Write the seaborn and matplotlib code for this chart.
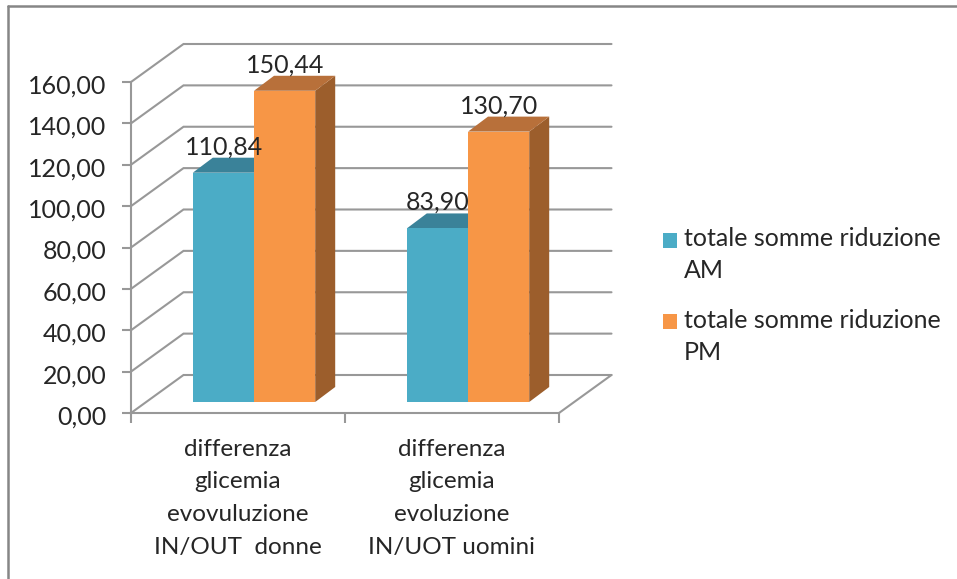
import matplotlib
matplotlib.use("Agg")
import matplotlib.pyplot as plt
import seaborn as sns
import pandas as pd
from matplotlib.legend_handler import HandlerPatch
from matplotlib.lines import Line2D
from matplotlib.patches import Polygon, Rectangle
from matplotlib.transforms import Affine2D, offset_copy

categories = ["differenza\nglicemia\nevovuluzione\nIN/OUT  donne",
              "differenza\nglicemia\nevoluzione\nIN/UOT uomini"]
series_names = ["totale somme riduzione\nAM", "totale somme riduzione\nPM"]
am_values = [110.84, 83.90]
pm_values = [150.44, 130.70]
value_labels_am = ["110,84", "83,90"]
value_labels_pm = ["150,44", "130,70"]
y_ticks = [0, 20, 40, 60, 80, 100, 120, 140, 160]
y_tick_labels = ["0,00", "20,00", "40,00", "60,00", "80,00", "100,00", "120,00", "140,00", "160,00"]

FRONT = ["#4BACC6", "#F79646"]
TOP = ["#3A8299", "#B8703A"]
SIDE = ["#2F7086", "#9C5E2C"]
GRID = "#989898"
TEXT = "#262626"

W, H = 957, 579
sns.set_theme(style="white")
plt.rcParams["font.family"] = ["Lato", "DejaVu Sans"]

fig = plt.figure(figsize=(W / 100, H / 100), dpi=100)
ax = fig.add_axes([131 / W, (H - 413) / H, 428 / W, 331 / H])

df = pd.DataFrame({
    "categoria": categories * 2,
    "serie": [series_names[0]] * 2 + [series_names[1]] * 2,
    "valore": am_values + pm_values,
})
sns.barplot(data=df, x="categoria", y="valore", hue="serie", palette=FRONT,
            saturation=1, width=0.572, gap=0, dodge=True, linewidth=0, ax=ax, zorder=5)
handles, labels = ax.get_legend_handles_labels()
ax.get_legend().remove()

ax.set_xlim(-0.5, 1.5)
ax.set_ylim(0, 160)
ax.set_xlabel("")
ax.set_ylabel("")

# pixel -> data scale
ux = 2 / 428
uy = 160 / 331
wall_dx, wall_dy = 52.5 * ux, 38 * uy
bar_dx, bar_dy = 20 * ux, 15 * uy

# back wall grid and floor
for v in y_ticks:
    ax.plot([-0.5, -0.5 + wall_dx, 1.5 + wall_dx], [v, v + wall_dy, v + wall_dy],
            color=GRID, lw=1.5, clip_on=False, zorder=1, solid_joinstyle="miter")
ax.plot([1.5, 1.5 + wall_dx], [0, wall_dy], color=GRID, lw=1.5, clip_on=False, zorder=1)

# bars sit part-way into the floor: shift the fronts and add depth faces
shift = offset_copy(ax.transData, fig=fig, x=16, y=11, units="dots")
for s, container in enumerate(ax.containers):
    texts = value_labels_am if s == 0 else value_labels_pm
    for patch, txt in zip(container.patches, texts):
        x0, x1 = patch.get_x(), patch.get_x() + patch.get_width()
        v = patch.get_height()
        patch.set_transform(shift)
        patch.set_clip_on(False)
        patch.set_zorder(6 + s)
        ax.add_patch(Polygon([(x1, 0), (x1 + bar_dx, bar_dy), (x1 + bar_dx, v + bar_dy), (x1, v)],
                             closed=True, fc=SIDE[s], ec="none", transform=shift,
                             clip_on=False, zorder=3 + s))
        ax.add_patch(Polygon([(x0, v), (x1, v), (x1 + bar_dx, v + bar_dy), (x0 + bar_dx, v + bar_dy)],
                             closed=True, fc=TOP[s], ec="none", transform=shift,
                             clip_on=False, zorder=3 + s))
        ax.annotate(txt, xy=((x0 + x1) / 2, v), xycoords=shift, xytext=(0.5, 26 * 0.72),
                    textcoords="offset points", ha="center", va="center",
                    fontsize=18, color=TEXT, zorder=20, annotation_clip=False)

# axes
for side in ("top", "right"):
    ax.spines[side].set_visible(False)
for side in ("left", "bottom"):
    ax.spines[side].set_color(GRID)
    ax.spines[side].set_linewidth(1.5)
    ax.spines[side].set_zorder(2)
ax.set_yticks(y_ticks)
ax.set_yticklabels(y_tick_labels)
ax.tick_params(axis="y", left=True, length=6.5, width=1.5, color=GRID, pad=11,
               labelsize=18, labelcolor=TEXT)
for lab in ax.get_yticklabels():
    lab.set_transform(lab.get_transform() + Affine2D().translate(0, -2))
ax.set_xticks([-0.5, 0.5, 1.5])
ax.set_xticklabels(["", "", ""])
ax.tick_params(axis="x", which="major", bottom=True, length=7, width=1.5, color=GRID)
ax.set_xticks([0, 1], minor=True)
ax.set_xticklabels(categories, minor=True, fontsize=17.5, color=TEXT, linespacing=1.69)
ax.tick_params(axis="x", which="minor", bottom=False, length=0, pad=18.5)


def first_line_swatch(legend, orig_handle, xdescent, ydescent, width, height, fontsize):
    # raise the swatch so it sits beside the first line of the two-line label
    return Rectangle((-xdescent, -ydescent + 11), width, height)


leg = ax.legend(handles, labels, loc="upper left", bbox_to_anchor=(663 / W, 1 - 227 / H),
                bbox_transform=fig.transFigure, frameon=False, fontsize=18,
                labelcolor=TEXT, handlelength=0.56, handleheight=0.56, handletextpad=0.28,
                labelspacing=1.05, borderpad=0, borderaxespad=0,
                handler_map={type(handles[0]): HandlerPatch(patch_func=first_line_swatch)})
for t in leg.get_texts():
    t.set_linespacing(1.5)

# outer frame: top and left edges only
fig.add_artist(Line2D([8 / W, 8 / W], [0, 1 - 6 / H], color="#868686", lw=1.8))
fig.add_artist(Line2D([8 / W, 1], [1 - 6 / H, 1 - 6 / H], color="#868686", lw=1.8))

fig.savefig("out.png", dpi=100, facecolor="white")
